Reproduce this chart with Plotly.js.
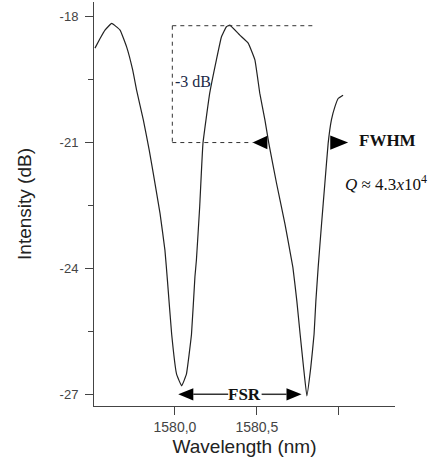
<!DOCTYPE html>
<html>
<head>
<meta charset="utf-8">
<script src="https://cdn.plot.ly/plotly-3.0.1.min.js"></script>
<style>html,body{margin:0;padding:0;background:#fff;}#chart{width:442px;height:467px;}</style>
</head>
<body>
<div id="chart"></div>
<script>
// Wavelength (nm) and intensity (dB)
var wavelength = [1579.512,1579.543,1579.573,1579.614,1579.665,1579.705,1579.742,1579.766,1579.807,1579.843,
  1579.868,1579.909,1579.939,1579.954,1579.980,1580.010,1580.041,1580.070,1580.101,
  1580.122,1580.131,1580.151,1580.171,1580.212,1580.253,1580.284,1580.314,1580.335,1580.396,
  1580.447,1580.488,1580.518,1580.549,1580.573,1580.620,1580.671,1580.701,1580.720,1580.744,
  1580.764,1580.785,1580.805,1580.829,1580.849,1580.860,1580.874,1580.895,1580.915,1580.935,
  1580.955,1580.976,1580.996,1581.026];
var intensity = [-18.75,-18.52,-18.32,-18.16,-18.32,-18.72,-19.27,-19.75,-20.46,-21.18,
  -21.74,-22.69,-23.57,-24.28,-25.57,-26.52,-26.80,-26.52,-25.57,
  -24.20,-23.80,-22.53,-21.02,-19.83,-19.03,-18.48,-18.24,-18.20,-18.44,
  -18.63,-19.03,-19.83,-20.46,-21.02,-21.97,-22.93,-23.57,-23.98,-24.78,
  -25.57,-26.36,-27.04,-26.36,-25.57,-24.78,-23.98,-22.93,-21.97,-21.02,
  -20.46,-20.15,-19.95,-19.87];

var xTickVals = [1580.0, 1580.5];
var xTickText = ['1580,0', '1580,5'];
var xUnlabeledTicks = [1581.0];
var yTickVals = [-27, -24, -21, -18];
var yTickText = ['-27', '-24', '-21', '-18'];
var yMinorVals = [-25.5, -22.5, -19.5];

var axisColor = '#444';
var serif = 'Liberation Serif, Times New Roman, serif';
var sans = 'Liberation Sans, Arial, sans-serif';

function tri(tipX, baseX, yc, half) {
  return 'M' + tipX + ',' + yc + ' L' + baseX + ',' + (yc + half) + ' L' + baseX + ',' + (yc - half) + ' Z';
}

var trace = {
  x: wavelength, y: intensity, type: 'scatter', mode: 'lines',
  line: {color: '#222', width: 1.2, shape: 'spline', smoothing: 0.3},
  hoverinfo: 'skip'
};

var dash = {color: '#333', width: 1, dash: '4px,4px'};
var shapes = [
  {type: 'line', xref: 'x', yref: 'y', x0: 1579.984, x1: 1579.984, y0: -18.215, y1: -21.0, line: dash},
  {type: 'line', xref: 'x', yref: 'y', x0: 1579.984, x1: 1580.860, y0: -18.215, y1: -18.215, line: dash},
  {type: 'line', xref: 'x', yref: 'y', x0: 1579.984, x1: 1580.474, y0: -21.0, y1: -21.0, line: dash},
  {type: 'path', xref: 'x', yref: 'y', path: tri(1580.474, 1580.564, -21.0, 0.16), fillcolor: '#000', line: {width: 0}},
  {type: 'path', xref: 'x', yref: 'y', path: tri(1581.057, 1580.948, -21.0, 0.17), fillcolor: '#000', line: {width: 0}},
  {type: 'line', xref: 'x', yref: 'y', x0: 1580.112, x1: 1580.325, y0: -27.0, y1: -27.0, line: {color: '#333', width: 1.5}},
  {type: 'line', xref: 'x', yref: 'y', x0: 1580.529, x1: 1580.681, y0: -27.0, y1: -27.0, line: {color: '#333', width: 1.5}},
  {type: 'path', xref: 'x', yref: 'y', path: tri(1580.020, 1580.112, -27.0, 0.145), fillcolor: '#000', line: {width: 0}},
  {type: 'path', xref: 'x', yref: 'y', path: tri(1580.773, 1580.681, -27.0, 0.145), fillcolor: '#000', line: {width: 0}}
];

var annotations = [
  {x: 1580.113, y: -19.55, xref: 'x', yref: 'y', text: '-3 dB', showarrow: false,
   font: {family: serif, size: 16, color: '#1a2a48'}},
  {x: 1581.299, y: -20.94, xref: 'x', yref: 'y', text: '<b>FWHM</b>', showarrow: false,
   font: {family: serif, size: 17, color: '#111'}},
  {x: 1581.291, y: -21.97, xref: 'x', yref: 'y', text: '<i>Q</i> ≈ 4.3<i>x</i>10<sup>4</sup>', showarrow: false,
   font: {family: serif, size: 17, color: '#111'}},
  {x: 1580.427, y: -27.0, xref: 'x', yref: 'y', text: '<b>FSR</b>', showarrow: false,
   font: {family: serif, size: 17, color: '#111'}}
];

var layout = {
  width: 442, height: 467,
  margin: {l: 94, r: 47, t: 2, b: 61, pad: 0},
  paper_bgcolor: '#fff', plot_bgcolor: '#fff',
  showlegend: false,
  xaxis: {
    range: [1579.506, 1581.343], showgrid: false, zeroline: false,
    showline: true, linecolor: axisColor, linewidth: 1,
    ticks: 'outside', ticklen: 8, tickcolor: axisColor, tickwidth: 1,
    tickmode: 'array', tickvals: xTickVals, ticktext: xTickText,
    minor: {tickmode: 'array', tickvals: xUnlabeledTicks, ticks: 'outside', ticklen: 8, tickcolor: axisColor, showgrid: false},
    tickfont: {family: sans, size: 14, color: '#444'},
    title: {text: 'Wavelength (nm)', font: {family: sans, size: 19, color: '#222'}, standoff: 5}
  },
  yaxis: {
    range: [-27.279, -17.65], showgrid: false, zeroline: false,
    showline: true, linecolor: axisColor, linewidth: 1,
    ticks: 'outside', ticklen: 8, tickcolor: axisColor, tickwidth: 1,
    tickmode: 'array', tickvals: yTickVals, ticktext: yTickText,
    minor: {tickmode: 'array', tickvals: yMinorVals, ticks: 'outside', ticklen: 5, tickcolor: axisColor, showgrid: false},
    tickfont: {family: sans, size: 13, color: '#444'},
    ticklabelstandoff: 4,
    title: {text: 'Intensity (dB)', font: {family: sans, size: 19, color: '#222'}, standoff: 22}
  },
  shapes: shapes,
  annotations: annotations
};

Plotly.newPlot('chart', [trace], layout, {displayModeBar: false, staticPlot: true});
</script>
</body>
</html>
